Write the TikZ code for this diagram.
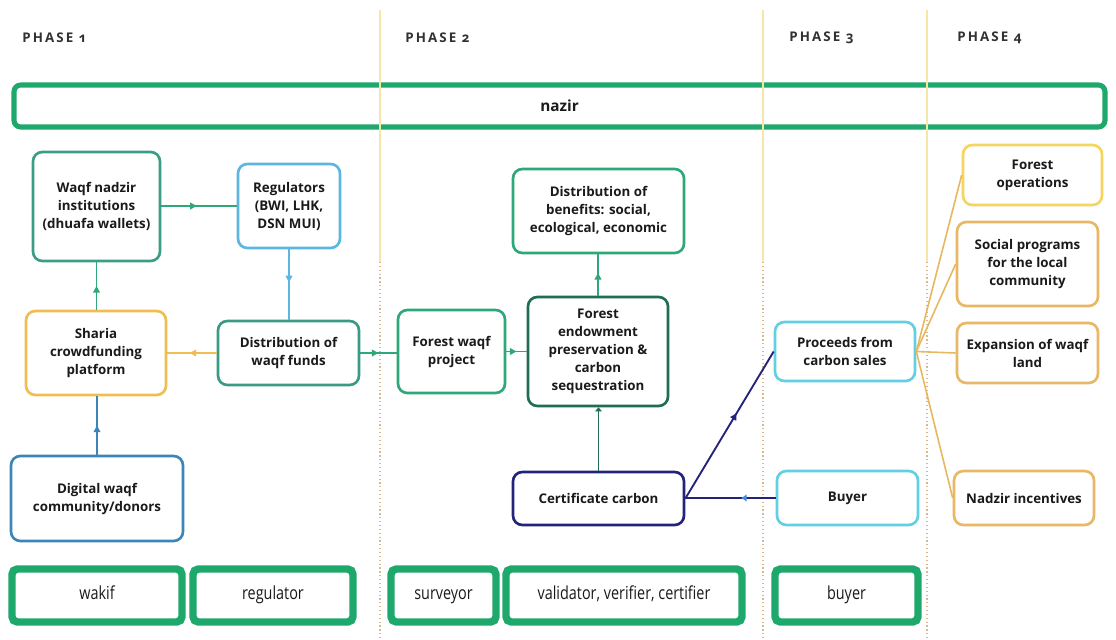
\documentclass[tikz,border=0pt]{standalone}
\usepackage{fontspec}
\setmainfont{Open Sans}
\newfontfamily\phasefont{Open Sans}[LetterSpace=16,Numbers=OldStyle]
\newfontfamily\condfont{Open Sans}[FakeStretch=0.8]
\usetikzlibrary{arrows.meta,decorations.markings}
\definecolor{grn}{HTML}{1FA86C}
\definecolor{txt}{HTML}{1A1A1A}
\definecolor{cNadzir}{HTML}{3A9E86}
\definecolor{cReg}{HTML}{5BB6E0}
\definecolor{cSharia}{HTML}{F0BE50}
\definecolor{cDist}{HTML}{3A9A84}
\definecolor{cDigital}{HTML}{3A86B8}
\definecolor{cForest}{HTML}{2EA878}
\definecolor{cEndow}{HTML}{1F6E52}
\definecolor{cCert}{HTML}{23237A}
\definecolor{cCyan}{HTML}{62D0E2}
\definecolor{cYel}{HTML}{F5D460}
\definecolor{cOra}{HTML}{E9B866}
\definecolor{cLine}{HTML}{E8B860}
\definecolor{cDivS}{HTML}{F5E7A6}
\definecolor{cDivD}{HTML}{D8B88E}
\definecolor{cDot}{HTML}{4A8FE0}
\tikzset{
  sz/.style 2 args={minimum width=#1*0.75pt, minimum height=#2*0.75pt},
  bx/.style={draw=#1, line width=2pt, rounded corners=7pt, fill=white,
    align=center, inner sep=0pt, font=\bfseries\fontsize{10}{13.5}\selectfont, text=txt},
  bot/.style={draw=grn, line width=5.6pt, rounded corners=4pt, fill=white,
    inner sep=0pt, text height=9pt, text depth=2.5pt,
    font=\condfont\fontsize{13.5}{15}\selectfont, text=txt},
  conn/.style={draw=#1, line width=1.4pt},
  mid/.style={postaction={decorate}, decoration={markings,
    mark=at position #1 with {\arrow{Triangle[length=5pt,width=5pt]}}}},
  phase/.style={anchor=west, inner sep=0pt, text=txt!90,
    font=\phasefont\bfseries\fontsize{10}{12}\selectfont},
  divsolid/.style={draw=cDivS, line width=0.9pt},
  divdot/.style={draw=cDivD, line width=0.9pt, dotted},
}
\begin{document}
\begin{tikzpicture}[x=0.75pt,y=-0.75pt]
\useasboundingbox (0,0) rectangle (1116,639);
\fill[white] (0,0) rectangle (1116,639);

% nazir bar
\node[draw=grn, line width=3.8pt, rounded corners=5pt, sz={1091}{42}, fill=white,
  font=\bfseries\fontsize{11.5}{13}\selectfont, text=txt] (nazir) at (559.5,106) {nazir};

% dividers
\foreach \x in {380,763,927} {
  \draw[divsolid] (\x,10) -- (\x,262);
  \draw[divdot] (\x,262) -- (\x,639);
}

% phase labels
\node[phase] (p1) at (22,38) {PHASE 1};
\node[phase] (p2) at (405,38) {PHASE 2};
\node[phase] (p3) at (789,38) {PHASE 3};
\node[phase] (p4) at (957,38) {PHASE 4};

% phase 1 boxes
\node[bx=cNadzir, sz={127}{109}] (nadzir) at (96.5,206.5) {Waqf nadzir\\institutions\\(dhuafa wallets)};
\node[bx=cReg, sz={102}{84}] (reg) at (289,206) {Regulators\\(BWI, LHK,\\DSN MUI)};
\node[bx=cSharia, sz={140}{84}] (sharia) at (96,353) {Sharia\\crowdfunding\\platform};
\node[bx=cDist, sz={141}{64}] (distf) at (288.5,353) {Distribution of\\waqf funds};
\node[bx=cDigital, sz={172}{85}] (digital) at (97,498.5) {Digital waqf\\community/donors};

% phase 2 boxes
\node[bx=cForest, sz={107}{83}] (fwp) at (451.5,351.5) {Forest waqf\\project};
\node[bx=cForest, sz={171}{84}] (benef) at (598.5,211) {Distribution of\\benefits: social,\\ecological, economic};
\node[bx=cEndow, sz={140}{109}] (endow) at (598,351.5) {Forest\\endowment\\preservation \&\\carbon\\sequestration};
\node[bx=cCert, sz={171}{53}] (cert) at (598.5,498.5) {Certificate carbon};

% phase 3 boxes
\node[bx=cCyan, sz={140}{59}] (proc) at (845,351.5) {Proceeds from\\carbon sales};
\node[bx=cCyan, sz={141}{54}] (buyer) at (847.5,498) {Buyer};

% phase 4 boxes
\node[bx=cYel, sz={139}{60}] (fops) at (1032.5,175) {Forest\\operations};
\node[bx=cOra, sz={141}{84}] (social) at (1027.5,264) {Social programs\\for the local\\community};
\node[bx=cOra, sz={141}{60}] (expan) at (1027.5,353) {Expansion of waqf\\land};
\node[bx=cOra, sz={140}{54}] (nadinc) at (1024,498) {Nadzir incentives};

% bottom bars
\node[bot, sz={170}{53}] (bwakif) at (97,595.5) {wakif};
\node[bot, sz={160}{53}] (breg) at (273,595.5) {regulator};
\node[bot, sz={105}{53}] (bsurv) at (443.5,595.5) {surveyor};
\node[bot, sz={236}{53}] (bval) at (624,595.5) {validator, verifier, certifier};
\node[bot, sz={143}{53}] (bbuy) at (846.5,595.5) {buyer};

% connectors phase 1
\draw[conn=cForest, mid=0.47] (nadzir.east |- reg.west) -- (reg.west);
\draw[conn=cReg, mid=0.47] (reg.south) -- (reg.south |- distf.north);
\draw[conn=cForest, mid=0.5] (sharia.north -| nadzir.south) -- (nadzir.south);
\draw[conn=cDigital, mid=0.5] (digital.north) -- (digital.north |- sharia.south);
\draw[conn=cSharia, mid=0.55] (distf.west) -- (distf.west -| sharia.east);

% connectors phase 2
\draw[conn=cForest, mid=0.5] (distf.east) -- (distf.east -| fwp.west);
\draw[conn=cForest, mid=0.5] (fwp.east) -- (fwp.east -| endow.west);
\draw[conn=cForest, mid=0.55] (endow.north) -- (endow.north |- benef.south);
\draw[conn=cEndow, -{Triangle[length=3pt,width=5pt]}] (cert.north) -- (cert.north |- endow.south);

% connectors phase 3
\draw[conn=cCert, mid=0.58] (cert.east) -- (proc.west);
\draw[conn=cCert, postaction={decorate}, decoration={markings,
  mark=at position 0.38 with {\arrow[cDot]{Triangle[length=4pt,width=5pt]}}}]
  (buyer.west) -- (buyer.west -| cert.east);

% connectors phase 4
\draw[conn=cLine, line width=1.2pt] (proc.east) -- (fops.west);
\draw[conn=cLine, line width=1.2pt] (proc.east) -- (social.west);
\draw[conn=cLine, line width=1.2pt] (proc.east) -- (expan.west);
\draw[conn=cLine, line width=1.2pt] (proc.east) -- (nadinc.west);
\end{tikzpicture}
\end{document}
